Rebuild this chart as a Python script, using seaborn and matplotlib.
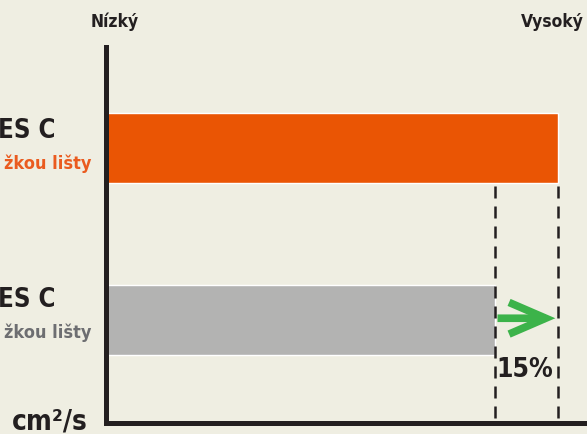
import matplotlib

matplotlib.use("Agg")

import matplotlib.pyplot as plt
import seaborn as sns
import pandas as pd

# data (relative scale, orange bar = 100)
series = ["orange", "gray"]
values = [100, 86]
bar_colors = ["#ea5504", "#b3b3b2"]
label_main = ["ES C", "ES C"]
label_sub = ["žkou lišty", "žkou lišty"]
sub_colors = ["#ea5b1f", "#6d6e71"]
diff_label = "15%"
unit_label = "cm²/s"
low_label = "Nízký"
high_label = "Vysoký"

BG = "#efeee2"
DARK = "#231f20"

sns.set_theme(style="white")
plt.rcParams["font.family"] = ["DejaVu Sans"]
plt.rcParams["font.weight"] = "bold"
plt.rcParams["font.stretch"] = "condensed"

df = pd.DataFrame({"series": series, "value": values})

fig = plt.figure(figsize=(5.87, 4.34), dpi=100, facecolor=BG)
ax = fig.add_axes([106 / 587, 11 / 434, 1 - 106 / 587, (423 - 47) / 434])
ax.set_facecolor(BG)

sns.barplot(data=df, x="value", y="series", hue="series", palette=bar_colors,
            orient="h", width=0.407, legend=False, ax=ax, saturation=1)

ax.set_xlim(0, 106.4)
ax.set_ylim(1.599, -0.587)
ax.set_xticks([])
ax.set_yticks([])
ax.set_xlabel("")
ax.set_ylabel("")

for side in ["top", "right"]:
    ax.spines[side].set_visible(False)
for side in ["left", "bottom"]:
    ax.spines[side].set_color(DARK)
    ax.spines[side].set_linewidth(3.6)

# dashed guides from the bottom of the orange bar down to the axis
half = 0.407 / 2
for v in values:
    ax.vlines(v, half + 0.015, 1.599, colors=DARK, linestyles=(0, (4.8, 3.2)), linewidth=1.8)

# green arrow showing the difference
ax.annotate("", xy=(values[0] - 0.6, 0.99), xytext=(values[1] + 0.6, 0.99),
            arrowprops=dict(arrowstyle="->,head_length=2.2,head_width=0.95",
                            color="#3cb34a", lw=5.5, shrinkA=0, shrinkB=0,
                            joinstyle="miter", capstyle="butt"))
ax.text((values[0] + values[1]) / 2 - 0.3, 1.29, diff_label, ha="center", va="center",
        fontsize=19, fontweight="bold", color=DARK)

# left labels, pushed against the left edge of the figure
fig_w = 587
for i, yc in enumerate([(131, 164), (300, 333)]):
    fig.text(56 / fig_w, 1 - yc[0] / 434, label_main[i], ha="right", va="center",
             fontsize=18.5, fontweight="bold", color=DARK)
    fig.text(91 / fig_w, 1 - yc[1] / 434, label_sub[i], ha="right", va="center",
             fontsize=13, fontweight="bold", color=sub_colors[i])

fig.text(88 / fig_w, 1 - 421 / 434, unit_label, ha="right", va="center", fontsize=20,
         fontweight="bold", color=DARK)
fig.text(115 / fig_w, 1 - 22 / 434, low_label, ha="center", va="center", fontsize=12.5,
         fontweight="bold", color=DARK)
fig.text(584 / fig_w, 1 - 22 / 434, high_label, ha="right", va="center", fontsize=12.5,
         fontweight="bold", color=DARK)

fig.savefig("out.png", dpi=100, facecolor=BG)
